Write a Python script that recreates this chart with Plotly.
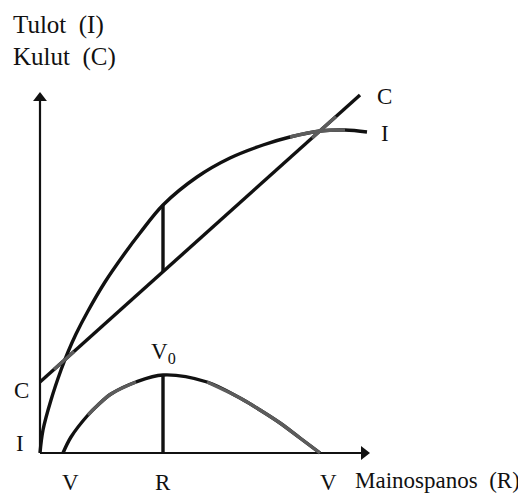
import numpy as np
import plotly.graph_objects as go

# Income curve I (Tulot)
i_x = [0, 3, 11, 21, 28, 36, 48, 65, 85, 100, 123, 157, 190, 223, 250, 280, 305, 327]
i_y = [0, 23, 53, 83, 101, 119, 142, 171, 200, 220, 248, 276, 295, 308, 316, 322, 323, 321]
# Cost line C (Kulut)
c_x = [0, 320]
c_y = [71, 358]
# Profit curve (I - C)
p_x = [23, 31, 48, 58, 71, 96, 123, 167, 200, 220, 240, 260, 280]
p_y = [0, 16, 38, 48, 59, 71, 78, 71, 55, 43, 30, 15, 0]
# Optimum advertising spend R
r_x = 123
# Axis lengths
x_axis_len = 330
y_axis_len = 361

BLACK = "#111111"
GRAY = "#5c5c5c"
LW = 3.4
FONT = "Liberation Serif"

fig = go.Figure()

def line(x, y, color=BLACK, width=LW, shape="spline"):
    fig.add_trace(go.Scatter(x=list(x), y=list(y), mode="lines",
                             line=dict(color=color, width=width, shape=shape, smoothing=1.0),
                             hoverinfo="skip", showlegend=False))

# axes lines
line([0, 0], [0, y_axis_len - 4], width=2.2, shape="linear")
line([0, x_axis_len - 4], [0, 0], width=2.2, shape="linear")

# main curves
line(c_x, c_y, shape="linear")
line(i_x, i_y)
line(p_x, p_y)

# gray (scan) segments
line(i_x[14:17], i_y[14:17], color=GRAY)
for a, b in [(14, 34), (272, 296)]:
    line([a, b], list(np.interp([a, b], c_x, c_y)), color=GRAY, shape="linear")
line(p_x[2:6], p_y[2:6], color=GRAY)
line(p_x[7:13], p_y[7:13], color=GRAY)

# vertical lines at R
line([r_x, r_x], [0, max(p_y)], shape="linear")
line([r_x, r_x], [float(np.interp(r_x, c_x, c_y)), float(np.interp(r_x, i_x, i_y))], shape="linear")

# arrowheads as markers
fig.add_trace(go.Scatter(x=[0], y=[y_axis_len - 6], mode="markers",
                         marker=dict(symbol="triangle-up", size=12, color=BLACK),
                         hoverinfo="skip", showlegend=False))
fig.add_trace(go.Scatter(x=[x_axis_len - 6], y=[0], mode="markers",
                         marker=dict(symbol="triangle-right", size=12, color=BLACK),
                         hoverinfo="skip", showlegend=False))

def label(x, y, text, xanchor="center", size=23):
    fig.add_annotation(x=x, y=y, text=text, showarrow=False, xanchor=xanchor,
                       yanchor="middle", font=dict(family=FONT, size=size, color=BLACK))

label(-29, 428, "Tulot  (I)", xanchor="left", size=25)
label(-29, 396, "Kulut  (C)", xanchor="left", size=25)
label(344, 357, "C")
label(345, 320, "I")
label(-19, 63, "C")
label(-20, 10, "I")
label(r_x, 100, "V<sub>0</sub>")
label(30, -29, "V")
label(r_x, -29, "R")
label(288, -29, "V")
label(313, -27, "Mainospanos  (R)", xanchor="left")

# page body has an 8px margin: size the figure to fit the window
fig.update_layout(
    width=518, height=487,
    margin=dict(l=0, r=0, t=0, b=0),
    paper_bgcolor="white", plot_bgcolor="white",
    xaxis=dict(range=[-32, 486], visible=False, fixedrange=True),
    yaxis=dict(range=[-42, 445], visible=False, fixedrange=True),
)

fig.write_html("out.html")
